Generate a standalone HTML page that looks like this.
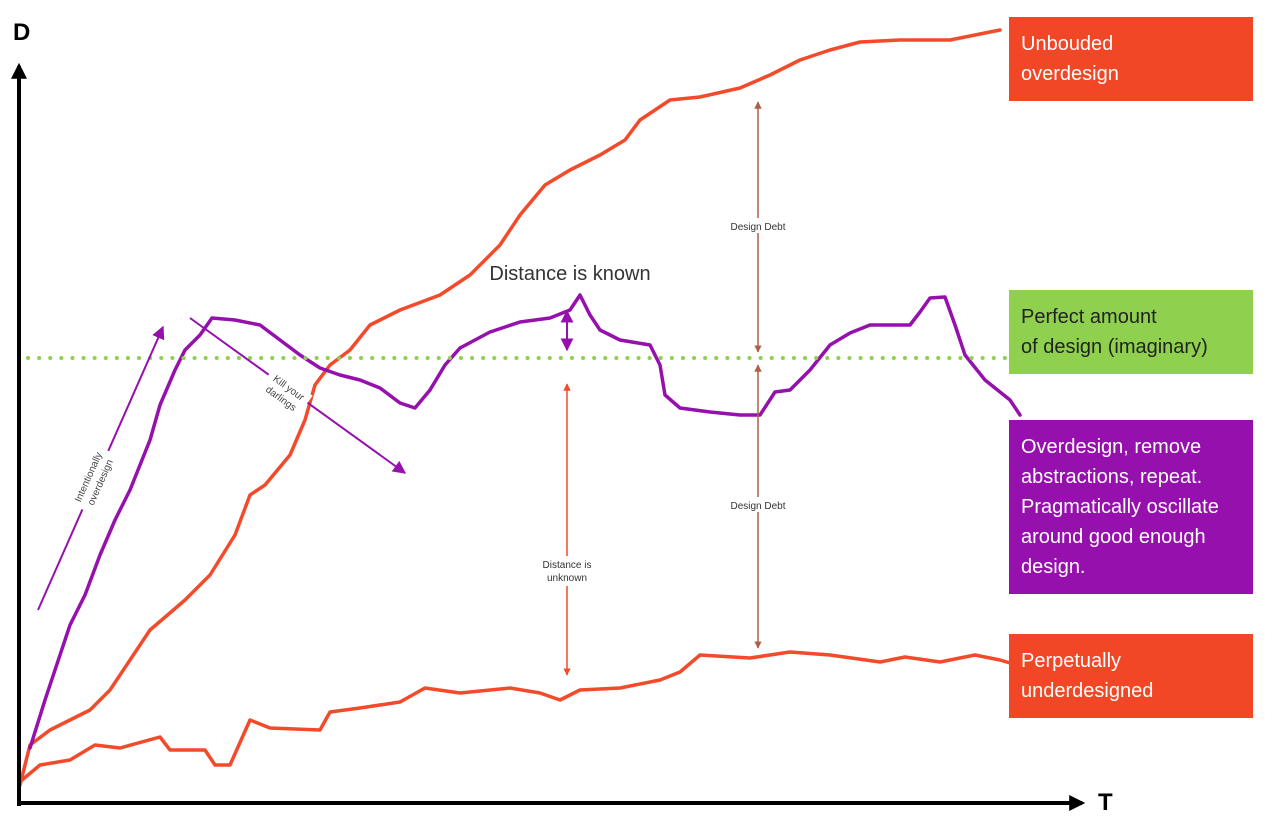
<!DOCTYPE html>
<html><head><meta charset="utf-8"><style>
html,body{margin:0;padding:0;background:#fff;width:1272px;height:824px;overflow:hidden}
svg{display:block;font-family:"Liberation Sans","DejaVu Sans",sans-serif}
</style></head><body>
<svg id="chart" width="1272" height="824" viewBox="0 0 1272 824">
<defs>
<marker id="ap" viewBox="0 0 10 10" refX="9" refY="5" markerWidth="6.5" markerHeight="6.5" orient="auto-start-reverse"><path d="M0,0 L10,5 L0,10 z" fill="#9510ac"/></marker>
<marker id="ar" viewBox="0 0 10 10" refX="9" refY="5" markerWidth="5" markerHeight="5" orient="auto-start-reverse"><path d="M0,0 L10,5 L0,10 z" fill="#f24a2a"/></marker>
<marker id="ab" viewBox="0 0 10 10" refX="9" refY="5" markerWidth="5" markerHeight="5" orient="auto-start-reverse"><path d="M0,0 L10,5 L0,10 z" fill="#a9614a"/></marker>
<marker id="ak" viewBox="0 0 10 10" refX="8" refY="5" markerWidth="4" markerHeight="4" orient="auto"><path d="M0,0 L10,5 L0,10 z" fill="#000"/></marker>
</defs>
<g id="curves"></g>
<line x1="28" y1="358" x2="1010" y2="358" stroke="#8fd14f" stroke-width="4" stroke-dasharray="0.1 11" stroke-linecap="round"/>
<line x1="19" y1="806" x2="19" y2="66" stroke="#000" stroke-width="4" marker-end="url(#ak)"/>
<line x1="17" y1="803" x2="1082" y2="803" stroke="#000" stroke-width="4" marker-end="url(#ak)"/>
<text x="13" y="40" font-size="24" font-weight="bold">D</text>
<text x="1098" y="810" font-size="24" font-weight="bold">T</text>

<line x1="38" y1="610" x2="163" y2="327" stroke="#9510ac" stroke-width="2" marker-end="url(#ap)"/>
<g transform="translate(95,480) rotate(-66)"><rect x="-32" y="-16" width="64" height="30" fill="#fff"/><text font-size="10" fill="#444" text-anchor="middle" y="-4">Intentionally</text><text font-size="10" fill="#444" text-anchor="middle" y="9">overdesign</text></g>
<line x1="190" y1="318" x2="405" y2="473" stroke="#9510ac" stroke-width="2" marker-end="url(#ap)"/>
<g transform="translate(285,393) rotate(36)"><rect x="-24" y="-14" width="48" height="28" fill="#fff"/><text font-size="10" fill="#444" text-anchor="middle" y="-3">Kill your</text><text font-size="10" fill="#444" text-anchor="middle" y="10">darlings</text></g>

<line x1="567" y1="311" x2="567" y2="350" stroke="#9510ac" stroke-width="2" marker-start="url(#ap)" marker-end="url(#ap)"/>
<text x="570" y="280" font-size="20" fill="#333" text-anchor="middle">Distance is known</text>
<line x1="567" y1="384" x2="567" y2="675" stroke="#f24a2a" stroke-width="1.5" marker-start="url(#ar)" marker-end="url(#ar)"/>
<rect x="535" y="556" width="64" height="30" fill="#fff"/>
<text x="567" y="568" font-size="10" fill="#333" text-anchor="middle"><tspan x="567">Distance is</tspan><tspan x="567" dy="13">unknown</tspan></text>
<line x1="758" y1="102" x2="758" y2="352" stroke="#a9614a" stroke-width="1.5" marker-start="url(#ab)" marker-end="url(#ab)"/>
<rect x="726" y="218" width="64" height="15" fill="#fff"/>
<text x="758" y="230" font-size="10" fill="#333" text-anchor="middle">Design Debt</text>
<line x1="758" y1="365" x2="758" y2="648" stroke="#a9614a" stroke-width="1.5" marker-start="url(#ab)" marker-end="url(#ab)"/>
<rect x="726" y="497" width="64" height="15" fill="#fff"/>
<text x="758" y="509" font-size="10" fill="#333" text-anchor="middle">Design Debt</text>

<g><rect x="1009" y="17" width="244" height="84" fill="#f24726"/><text x="1021" y="50" font-size="20" fill="#fff">Unbouded</text><text x="1021" y="80" font-size="20" fill="#fff">overdesign</text></g>
<g><rect x="1009" y="290" width="244" height="84" fill="#8fd14f"/><text x="1021" y="323" font-size="20" fill="#222">Perfect amount</text><text x="1021" y="353" font-size="20" fill="#222">of design (imaginary)</text></g>
<g><rect x="1009" y="420" width="244" height="174" fill="#9510ac"/><text font-size="20" fill="#fff"><tspan x="1021" y="453">Overdesign, remove</tspan><tspan x="1021" y="483">abstractions, repeat.</tspan><tspan x="1021" y="513">Pragmatically oscillate</tspan><tspan x="1021" y="543">around good enough</tspan><tspan x="1021" y="573">design.</tspan></text></g>
<g><rect x="1009" y="634" width="244" height="84" fill="#f24726"/><text x="1021" y="667" font-size="20" fill="#fff">Perpetually</text><text x="1021" y="697" font-size="20" fill="#fff">underdesigned</text></g>
</svg>
<script>
// T (time) and D (design) values for each curve
const overT = [0,10,30,70,90,110,130,165,190,215,230,245,270,285,295,310,330,350,380,420,450,480,500,525,550,580,605,620,650,680,720,750,780,810,840,880,930,980];
const overD = [15,55,70,90,110,140,170,200,225,265,305,315,345,380,415,435,450,475,490,505,525,555,585,615,630,645,660,680,700,703,712,725,740,750,758,760,760,770];
const underT = [2,20,50,75,100,140,150,185,195,210,230,250,300,310,340,380,405,440,490,520,540,560,600,640,660,680,730,770,810,860,885,920,955,980,990];
const underD = [20,35,40,55,52,63,50,50,35,35,80,72,70,88,92,98,112,107,112,107,100,110,112,120,128,145,142,148,145,138,143,138,145,140,137];
const purpT = [10,25,35,50,65,80,95,110,130,140,155,165,180,192,215,240,260,280,300,320,340,360,380,395,410,425,440,470,500,530,550,560,570,580,600,630,640,645,660,690,720,740,755,770,790,810,830,850,890,900,910,925,935,945,965,990,1000];
const purpD = [52,100,130,175,205,245,280,310,360,395,430,450,465,482,480,475,460,445,432,425,420,412,397,392,410,435,452,468,478,482,490,505,485,470,460,455,435,405,392,388,385,385,408,410,430,455,467,475,475,488,502,503,475,445,420,400,385];

const xS = t => 20 + t;
const yS = d => 800 - d;
const g = document.getElementById('curves');
function drawCurve(T, D, color, w, name){
  let s = '';
  T.forEach((t,i)=>{ s += (i?'L':'M') + xS(t).toFixed(1) + ',' + yS(D[i]).toFixed(1); });
  const p = document.createElementNS('http://www.w3.org/2000/svg','path');
  p.setAttribute('d', s);
  p.setAttribute('fill','none');
  p.setAttribute('stroke', color);
  p.setAttribute('stroke-width', w);
  p.setAttribute('stroke-linejoin','round');
  p.setAttribute('stroke-linecap','round');
  
  
  g.appendChild(p);
}
drawCurve(overT, overD, '#f24a2a', 3.5, 'unbounded-overdesign-curve');
drawCurve(underT, underD, '#f24a2a', 3.5, 'underdesigned-curve');
drawCurve(purpT, purpD, '#9510ac', 3.5, 'oscillating-design-curve');
</script>
</body></html>
